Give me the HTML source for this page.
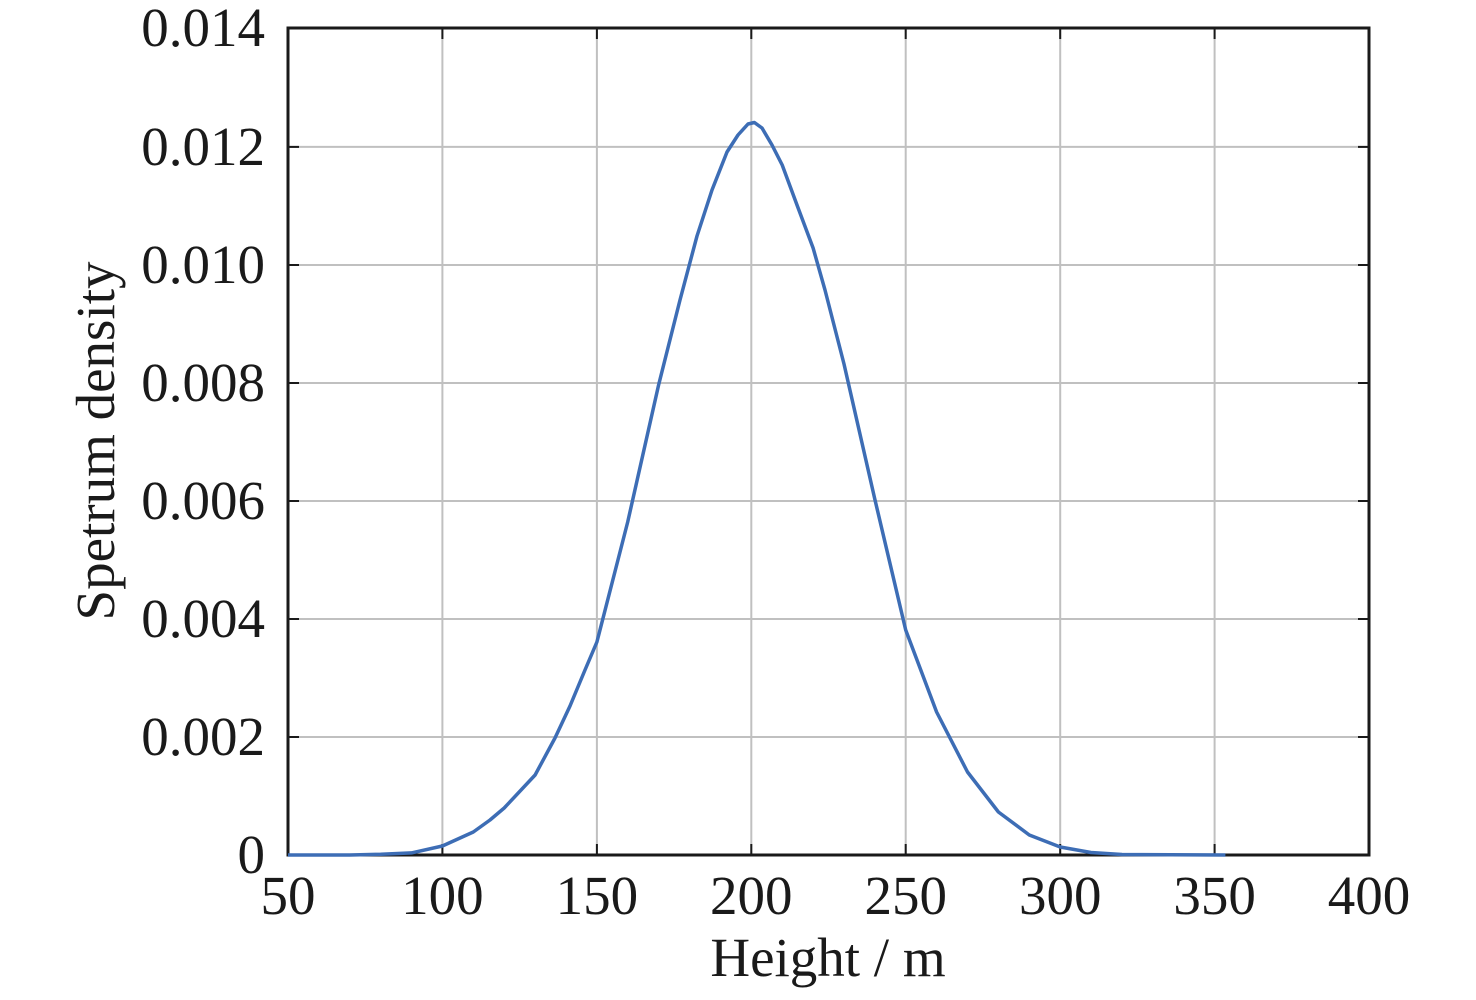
<!DOCTYPE html>
<html><head><meta charset="utf-8"><style>html,body{margin:0;padding:0;background:#fff}</style></head>
<body>
<svg width="1476" height="995" xmlns="http://www.w3.org/2000/svg" font-family="Liberation Serif, serif" fill="#1a1a1a">
<g stroke="#c0c0c0" stroke-width="2">
<line x1="442.4" y1="28" x2="442.4" y2="855"/><line x1="596.9" y1="28" x2="596.9" y2="855"/>
<line x1="751.3" y1="28" x2="751.3" y2="855"/><line x1="905.7" y1="28" x2="905.7" y2="855"/>
<line x1="1060.2" y1="28" x2="1060.2" y2="855"/><line x1="1214.6" y1="28" x2="1214.6" y2="855"/>
<line x1="288" y1="146.9" x2="1369" y2="146.9"/><line x1="288" y1="265" x2="1369" y2="265"/>
<line x1="288" y1="383" x2="1369" y2="383"/><line x1="288" y1="501" x2="1369" y2="501"/>
<line x1="288" y1="619" x2="1369" y2="619"/><line x1="288" y1="737" x2="1369" y2="737"/>
</g>
<g stroke="#1a1a1a" stroke-width="2">
<line x1="442.4" y1="855" x2="442.4" y2="844"/><line x1="596.9" y1="855" x2="596.9" y2="844"/>
<line x1="751.3" y1="855" x2="751.3" y2="844"/><line x1="905.7" y1="855" x2="905.7" y2="844"/>
<line x1="1060.2" y1="855" x2="1060.2" y2="844"/><line x1="1214.6" y1="855" x2="1214.6" y2="844"/>
<line x1="442.4" y1="28" x2="442.4" y2="39"/><line x1="596.9" y1="28" x2="596.9" y2="39"/>
<line x1="751.3" y1="28" x2="751.3" y2="39"/><line x1="905.7" y1="28" x2="905.7" y2="39"/>
<line x1="1060.2" y1="28" x2="1060.2" y2="39"/><line x1="1214.6" y1="28" x2="1214.6" y2="39"/>
<line x1="288" y1="146.9" x2="299" y2="146.9"/><line x1="288" y1="265" x2="299" y2="265"/>
<line x1="288" y1="383" x2="299" y2="383"/><line x1="288" y1="501" x2="299" y2="501"/>
<line x1="288" y1="619" x2="299" y2="619"/><line x1="288" y1="737" x2="299" y2="737"/>
<line x1="1369" y1="146.9" x2="1358" y2="146.9"/><line x1="1369" y1="265" x2="1358" y2="265"/>
<line x1="1369" y1="383" x2="1358" y2="383"/><line x1="1369" y1="501" x2="1358" y2="501"/>
<line x1="1369" y1="619" x2="1358" y2="619"/><line x1="1369" y1="737" x2="1358" y2="737"/>
</g>
<rect x="288" y="28" width="1081" height="827" fill="none" stroke="#1a1a1a" stroke-width="3"/>
<polyline fill="none" stroke="#3d6db5" stroke-width="3.5" stroke-linejoin="round" points="288,855 349.8,855 380.7,854.3 411.5,852.9 442.4,846 473.3,832 490,820 504.2,808 535.1,775 555,738 570,706 585,670 596.9,642 627.7,522 658.6,385 680,300 697,236 712,190 727,152 738,135 748,124 754.4,122.5 762,128 772,145 782.2,165 797,205 813.1,248 825,290 844,364 874.9,499.5 905.7,630 936.6,712 967.5,772 998.4,812 1029.3,835 1060.2,847 1091,852.5 1122,854.5 1225.4,855"/>
<g font-size="55" text-anchor="end">
<text x="265" y="46">0.014</text><text x="265" y="165">0.012</text><text x="265" y="283">0.010</text>
<text x="265" y="401">0.008</text><text x="265" y="519">0.006</text><text x="265" y="637">0.004</text>
<text x="265" y="755">0.002</text><text x="265" y="873">0</text>
</g>
<g font-size="55" text-anchor="middle">
<text x="288" y="914">50</text><text x="442.4" y="914">100</text><text x="596.9" y="914">150</text>
<text x="751.3" y="914">200</text><text x="905.7" y="914">250</text><text x="1060.2" y="914">300</text>
<text x="1214.6" y="914">350</text><text x="1369" y="914">400</text>
<text x="828" y="976">Height / m</text>
<text transform="translate(114,441) rotate(-90)">Spetrum density</text>
</g>
</svg>
</body></html>
